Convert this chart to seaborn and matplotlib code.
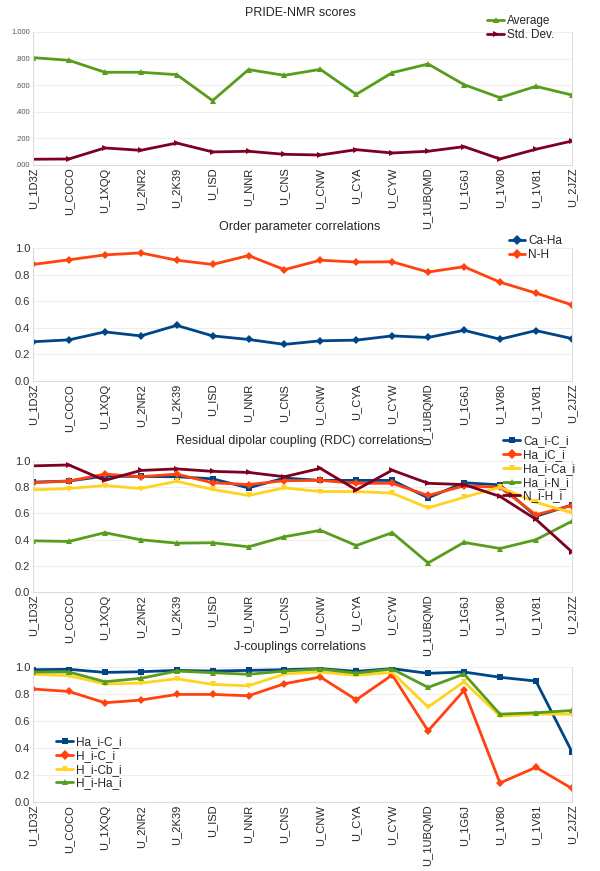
import matplotlib
matplotlib.use("Agg")
import matplotlib.pyplot as plt
import seaborn as sns
import pandas as pd

# data
proteins = ["U_1D3Z", "U_COCO", "U_1XQQ", "U_2NR2", "U_2K39", "U_ISD", "U_NNR", "U_CNS",
            "U_CNW", "U_CYA", "U_CYW", "U_1UBQMD", "U_1G6J", "U_1V80", "U_1V81", "U_2JZZ"]

pride_avg = [0.807, 0.787, 0.697, 0.697, 0.679, 0.484, 0.717, 0.674,
             0.719, 0.531, 0.694, 0.759, 0.604, 0.506, 0.591, 0.526]
pride_std = [0.043, 0.045, 0.128, 0.110, 0.165, 0.098, 0.103, 0.080,
             0.075, 0.115, 0.090, 0.103, 0.138, 0.045, 0.118, 0.180]

op_caha = [0.295, 0.309, 0.369, 0.339, 0.418, 0.339, 0.312, 0.275,
           0.302, 0.307, 0.339, 0.327, 0.381, 0.314, 0.379, 0.319]
op_nh = [0.876, 0.911, 0.948, 0.963, 0.908, 0.876, 0.943, 0.837,
         0.908, 0.894, 0.896, 0.819, 0.859, 0.743, 0.661, 0.572]

rdc_ca_c = [0.839, 0.847, 0.885, 0.882, 0.880, 0.864, 0.795, 0.870,
            0.852, 0.852, 0.852, 0.719, 0.834, 0.818, 0.578, 0.665]
rdc_ha_c = [0.834, 0.847, 0.900, 0.880, 0.900, 0.834, 0.820, 0.850,
            0.852, 0.830, 0.830, 0.737, 0.810, 0.800, 0.590, 0.660]
rdc_ha_ca = [0.780, 0.790, 0.813, 0.790, 0.845, 0.783, 0.737, 0.795,
             0.767, 0.767, 0.755, 0.642, 0.723, 0.800, 0.685, 0.605]
rdc_ha_n = [0.391, 0.386, 0.453, 0.399, 0.373, 0.376, 0.345, 0.422,
            0.471, 0.355, 0.453, 0.222, 0.379, 0.332, 0.399, 0.540]
rdc_n_h = [0.963, 0.970, 0.852, 0.928, 0.940, 0.921, 0.913, 0.880,
           0.944, 0.780, 0.930, 0.830, 0.820, 0.730, 0.555, 0.307]

j_ha_c = [0.980, 0.983, 0.960, 0.965, 0.975, 0.970, 0.975, 0.980,
          0.988, 0.968, 0.988, 0.953, 0.963, 0.924, 0.896, 0.374]
j_h_c = [0.837, 0.819, 0.735, 0.755, 0.797, 0.797, 0.787, 0.876,
         0.926, 0.757, 0.941, 0.527, 0.827, 0.141, 0.257, 0.101]
j_h_cb = [0.946, 0.936, 0.874, 0.881, 0.913, 0.871, 0.861, 0.948,
          0.963, 0.938, 0.960, 0.703, 0.891, 0.636, 0.651, 0.651]
j_h_ha = [0.963, 0.963, 0.891, 0.916, 0.970, 0.958, 0.946, 0.970,
          0.985, 0.955, 0.985, 0.849, 0.948, 0.651, 0.661, 0.678]

BLUE, ORANGE, YELLOW, GREEN, DARKRED = "#004586", "#ff420e", "#ffd320", "#579d1c", "#7e0021"

sns.set_theme(style="white")
plt.rcParams["font.family"] = ["Liberation Sans", "DejaVu Sans"]

fig = plt.figure(figsize=(6, 8.71), dpi=100)
L, W = 0.055, 0.898
boxes = [(0.8106, 0.1527), (0.5626, 0.1527), (0.3203, 0.1504), (0.0792, 0.1550)]


def panel(box, title, series, legend_kw, fmt=None):
    ax = fig.add_axes([L, box[0], W, box[1]])
    rows = []
    for name, vals, col, mk in series:
        for i, v in enumerate(vals):
            rows.append({"x": i, "y": v, "s": name})
    df = pd.DataFrame(rows)
    sns.lineplot(data=df, x="x", y="y", hue="s", style="s",
                 palette={s[0]: s[2] for s in series},
                 markers={s[0]: s[3] for s in series},
                 dashes=False, linewidth=2, markersize=4.5,
                 markeredgewidth=0, ax=ax)
    ax.set_xlim(0, len(proteins) - 1)
    ax.set_ylim(0, 1)
    ax.set_yticks([0, 0.2, 0.4, 0.6, 0.8, 1.0])
    if fmt:
        ax.set_yticklabels([fmt(v) for v in ax.get_yticks()], fontsize=5.5, color="#555555")
    else:
        ax.set_yticklabels([f"{v:.1f}" for v in ax.get_yticks()], fontsize=8, color="#333333")
    ax.set_xticks(range(len(proteins)))
    ax.set_xticklabels(proteins, rotation=90, fontsize=8)
    ax.tick_params(axis="both", length=0, pad=2)
    ax.grid(axis="y", color="#eeeeee", linewidth=0.8)
    ax.set_xlabel("")
    ax.set_ylabel("")
    for sp in ["left", "bottom", "right"]:
        ax.spines[sp].set_color("#dddddd")
        ax.spines[sp].set_linewidth(0.8)
    ax.spines["top"].set_visible(False)
    fig.text(0.5, box[0] + box[1] + legend_kw.pop("title_off"), title,
             ha="center", va="center", fontsize=9)
    handles, labels = ax.get_legend_handles_labels()
    for h in handles:
        h.set_markersize(5)
    ax.legend(handles, labels, frameon=False, fontsize=8.5, handlelength=1.4,
              handletextpad=0.25, labelspacing=0.15, borderpad=0.1, **legend_kw)
    return ax


panel(boxes[0], "PRIDE-NMR scores",
      [("Average", pride_avg, GREEN, "^"), ("Std. Dev.", pride_std, DARKRED, ">")],
      dict(loc="upper left", bbox_to_anchor=(0.83, 1.18), title_off=0.022),
      fmt=lambda v: f"{v:.3f}".lstrip("0") if v < 1 else f"{v:.3f}")

panel(boxes[1], "Order parameter correlations",
      [("Ca-Ha", op_caha, BLUE, "D"), ("N-H", op_nh, ORANGE, "D")],
      dict(loc="upper left", bbox_to_anchor=(0.87, 1.15), title_off=0.024))

panel(boxes[2], "Residual dipolar coupling (RDC) correlations",
      [("Ca_i-C_i", rdc_ca_c, BLUE, "s"), ("Ha_iC_i", rdc_ha_c, ORANGE, "D"),
       ("Ha_i-Ca_i", rdc_ha_ca, YELLOW, "v"), ("Ha_i-N_i", rdc_ha_n, GREEN, "^"),
       ("N_i-H_i", rdc_n_h, DARKRED, ">")],
      dict(loc="upper left", bbox_to_anchor=(0.86, 1.25), title_off=0.023))

panel(boxes[3], "J-couplings correlations",
      [("Ha_i-C_i", j_ha_c, BLUE, "s"), ("H_i-C_i", j_h_c, ORANGE, "D"),
       ("H_i-Cb_i", j_h_cb, YELLOW, "v"), ("H_i-Ha_i", j_h_ha, GREEN, "^")],
      dict(loc="upper left", bbox_to_anchor=(0.03, 0.54), title_off=0.023))

fig.savefig("out.png", dpi=100)
